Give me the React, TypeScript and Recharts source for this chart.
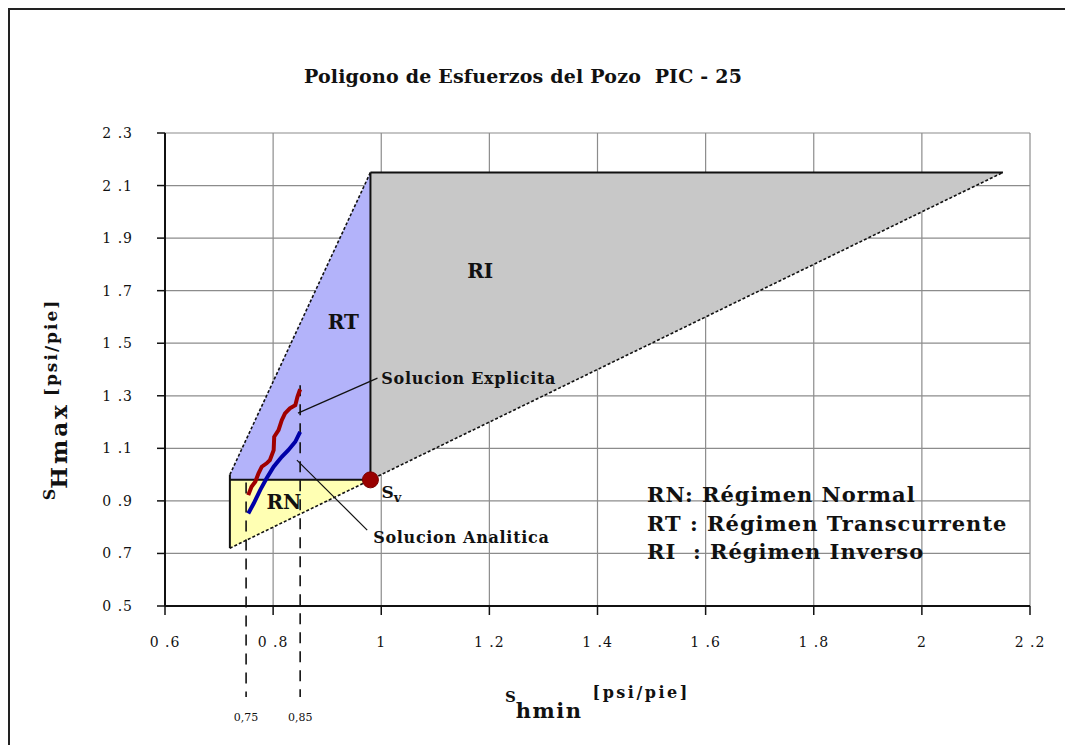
import {
  ComposedChart,
  XAxis,
  YAxis,
  CartesianGrid,
  Area,
  Line,
  ReferenceLine,
  ReferenceDot,
  Label,
} from 'recharts'

const xTicks = [0.6, 0.8, 1, 1.2, 1.4, 1.6, 1.8, 2, 2.2]
const yTicks = [0.5, 0.7, 0.9, 1.1, 1.3, 1.5, 1.7, 1.9, 2.1, 2.3]

// vertices of the stress polygon (psi/pie)
const sv = 0.98
const shLow = 0.72
const rtLow = 1.0
const top = 2.15

// regime bands: [lower SHmax, upper SHmax] at each Shmin
const rnBand = [
  { x: shLow, r: [shLow, sv] },
  { x: sv, r: [sv, sv] },
]
const rtBand = [
  { x: shLow, r: [sv, rtLow] },
  { x: sv, r: [sv, top] },
]
const riBand = [
  { x: sv, r: [sv, top] },
  { x: top, r: [top, top] },
]

const diagonalLimit = [
  { x: shLow, y: shLow },
  { x: top, y: top },
]
const rtLimit = [
  { x: shLow, y: rtLow },
  { x: sv, y: top },
]

const solidEdges = [
  [{ x: sv, y: top }, { x: top, y: top }],
  [{ x: sv, y: sv }, { x: sv, y: top }],
  [{ x: shLow, y: sv }, { x: sv, y: sv }],
  [{ x: shLow, y: shLow }, { x: shLow, y: rtLow }],
]

// Solucion Explicita (red) and Solucion Analitica (blue)
const explicita = [
  { x: 0.754, y: 0.922 },
  { x: 0.76, y: 0.954 },
  { x: 0.767, y: 0.973 },
  { x: 0.773, y: 1.005 },
  { x: 0.779, y: 1.03 },
  { x: 0.788, y: 1.043 },
  { x: 0.794, y: 1.055 },
  { x: 0.801, y: 1.093 },
  { x: 0.802, y: 1.144 },
  { x: 0.81, y: 1.169 },
  { x: 0.816, y: 1.207 },
  { x: 0.822, y: 1.233 },
  { x: 0.831, y: 1.252 },
  { x: 0.841, y: 1.264 },
  { x: 0.845, y: 1.296 },
  { x: 0.85, y: 1.325 },
]
const analitica = [
  { x: 0.754, y: 0.852 },
  { x: 0.764, y: 0.89 },
  { x: 0.776, y: 0.941 },
  { x: 0.788, y: 0.986 },
  { x: 0.801, y: 1.03 },
  { x: 0.816, y: 1.068 },
  { x: 0.828, y: 1.093 },
  { x: 0.841, y: 1.125 },
  { x: 0.85, y: 1.163 },
]

const depthMarks = [
  { x: 0.75, from: 0.97, label: '0,75' },
  { x: 0.85, from: 1.34, label: '0,85' },
]
const markBottom = 0.154
const markLabelY = 0.074

const leaders = [
  { from: { x: 0.846, y: 1.234 }, to: { x: 0.993, y: 1.367 }, text: 'Solucion Explicita', tx: 1.0, ty: 1.367 },
  { from: { x: 0.844, y: 1.055 }, to: { x: 0.974, y: 0.789 }, text: 'Solucion Analitica', tx: 0.985, ty: 0.762 },
]

const regionLabels = [
  { x: 1.183, y: 1.774, text: 'RI' },
  { x: 0.93, y: 1.58, text: 'RT' },
  { x: 0.82, y: 0.895, text: 'RN' },
]

const legendLines = ['RN: Régimen Normal', 'RT : Régimen Transcurrente', 'RI  : Régimen Inverso']

const serif = '"DejaVu Serif", "Liberation Serif", serif'

const fmt = (v: number) => (Number.isInteger(v) ? String(v) : v.toFixed(1).replace('.', ' .'))

const textLabel =
  (text: string, opts: { size?: number; anchor?: string; weight?: string; spacing?: number } = {}) =>
  (p: any) => {
    const vb = p.viewBox || {}
    const cx = vb.x + (vb.width || 0) / 2
    const cy = vb.y + (vb.height || 0) / 2
    return (
      <text
        x={cx}
        y={cy}
        textAnchor={opts.anchor || 'middle'}
        dominantBaseline="central"
        fontFamily={serif}
        fontWeight={opts.weight || 'bold'}
        fontSize={opts.size || 15}
        letterSpacing={opts.spacing || 0}
        fill="#111"
      >
        {text}
      </text>
    )
  }

const svLabel = (p: any) => {
  const vb = p.viewBox || {}
  const cx = vb.x + (vb.width || 0) / 2
  const cy = vb.y + (vb.height || 0) / 2
  return (
    <text x={cx + 11} y={cy + 18} fontFamily={serif} fontWeight="bold" fill="#111">
      <tspan fontSize={17}>S</tspan>
      <tspan fontSize={13} dy={4}>v</tspan>
    </text>
  )
}

const yTitle = (p: any) => {
  const vb = p.viewBox
  const x = vb.x - 30
  const y = vb.y + vb.height / 2 + 30
  return (
    <text
      x={x}
      y={y}
      transform={`rotate(-90, ${x}, ${y})`}
      textAnchor="middle"
      fontFamily={serif}
      fontWeight="bold"
      fill="#111"
    >
      <tspan fontSize={16}>S</tspan>
      <tspan fontSize={23} dy={12} letterSpacing={3}>Hmax</tspan>
      <tspan fontSize={17} dy={-10} dx={6} letterSpacing={2}>[psi/pie]</tspan>
    </text>
  )
}

const xTitle = (p: any) => {
  const vb = p.viewBox
  const x = vb.x + 340
  const y = vb.y + 96
  return (
    <text x={x} y={y} fontFamily={serif} fontWeight="bold" fill="#111">
      <tspan fontSize={15}>S</tspan>
      <tspan fontSize={21} dy={16} letterSpacing={1.5}>hmin</tspan>
      <tspan fontSize={16} dy={-20} dx={10} letterSpacing={2.5}>[psi/pie]</tspan>
    </text>
  )
}

export default function App() {
  return (
    <div
      style={{
        position: 'relative',
        width: 1055,
        height: 735,
        borderLeft: '2px solid #222',
        borderTop: '2px solid #222',
        background: '#fff',
      }}
    >
      <div
        style={{
          position: 'absolute',
          left: 513,
          top: 55,
          transform: 'translateX(-50%)',
          whiteSpace: 'pre',
          fontFamily: serif,
          fontWeight: 'bold',
          fontSize: 19,
          letterSpacing: 0.2,
          color: '#111',
        }}
      >
        {'Poligono de Esfuerzos del Pozo  PIC - 25'}
      </div>
      <div
        style={{
          position: 'absolute',
          left: 637,
          top: 471,
          whiteSpace: 'pre',
          fontFamily: serif,
          fontWeight: 'bold',
          fontSize: 21,
          letterSpacing: 1,
          lineHeight: '28.5px',
          color: '#111',
          zIndex: 2,
        }}
      >
        {legendLines.map((l) => (
          <div key={l}>{l}</div>
        ))}
      </div>
      <ComposedChart
        width={1055}
        height={735}
        margin={{ top: 123, right: 35, bottom: 89, left: 75 }}
      >
        <CartesianGrid stroke="#8c8c8c" strokeWidth={1.2} />
        <XAxis
          type="number"
          dataKey="x"
          domain={[0.6, 2.2]}
          ticks={xTicks}
          allowDataOverflow
          height={50}
          tickFormatter={fmt}
          tickSize={9}
          tickMargin={22}
          axisLine={{ stroke: '#111', strokeWidth: 2 }}
          tickLine={{ stroke: '#111', strokeWidth: 1.5 }}
          tick={{ fill: '#111', fontSize: 14, fontFamily: serif, letterSpacing: 1 }}
        >
          <Label content={xTitle} />
        </XAxis>
        <YAxis
          type="number"
          domain={[0.5, 2.3]}
          ticks={yTicks}
          allowDataOverflow
          width={80}
          tickFormatter={fmt}
          tickSize={8}
          tickMargin={24}
          axisLine={{ stroke: '#111', strokeWidth: 2 }}
          tickLine={{ stroke: '#111', strokeWidth: 1.5 }}
          tick={{ fill: '#111', fontSize: 14, fontFamily: serif, letterSpacing: 1 }}
        >
          <Label content={yTitle} />
        </YAxis>

        <Area data={riBand} dataKey="r" type="linear" fill="#c8c8c8" fillOpacity={1} stroke="none" dot={false} activeDot={false} isAnimationActive={false} />
        <Area data={rtBand} dataKey="r" type="linear" fill="#b3b3fa" fillOpacity={1} stroke="none" dot={false} activeDot={false} isAnimationActive={false} />
        <Area data={rnBand} dataKey="r" type="linear" fill="#ffffb3" fillOpacity={1} stroke="none" dot={false} activeDot={false} isAnimationActive={false} />

        <Line data={diagonalLimit} dataKey="y" type="linear" stroke="#111" strokeWidth={1.6} strokeDasharray="3 2" dot={false} activeDot={false} isAnimationActive={false} />
        <Line data={rtLimit} dataKey="y" type="linear" stroke="#111" strokeWidth={1.6} strokeDasharray="3 2" dot={false} activeDot={false} isAnimationActive={false} />

        {solidEdges.map((seg, i) => (
          <ReferenceLine key={'e' + i} segment={seg} stroke="#111" strokeWidth={2} />
        ))}

        {depthMarks.map((m) => (
          <ReferenceLine
            key={m.label}
            segment={[
              { x: m.x, y: m.from },
              { x: m.x, y: markBottom },
            ]}
            stroke="#111"
            strokeWidth={1.6}
            strokeDasharray="11 8"
            ifOverflow="visible"
          />
        ))}
        {depthMarks.map((m) => (
          <ReferenceDot
            key={'l' + m.label}
            x={m.x}
            y={markLabelY}
            r={1}
            fill="none"
            stroke="none"
            ifOverflow="visible"
            label={textLabel(m.label, { size: 11, weight: 'normal' })}
          />
        ))}

        {leaders.map((l) => (
          <ReferenceLine key={l.text} segment={[l.from, l.to]} stroke="#111" strokeWidth={1.2} />
        ))}

        <Line data={explicita} dataKey="y" type="linear" stroke="#a00000" strokeWidth={4} dot={false} activeDot={false} isAnimationActive={false} />
        <Line data={analitica} dataKey="y" type="linear" stroke="#0000a8" strokeWidth={4} dot={false} activeDot={false} isAnimationActive={false} />

        {leaders.map((l) => (
          <ReferenceDot
            key={'t' + l.text}
            x={l.tx}
            y={l.ty}
            r={1}
            fill="none"
            stroke="none"
            label={textLabel(l.text, { size: 16, anchor: 'start', spacing: 0.7 })}
          />
        ))}
        {regionLabels.map((r) => (
          <ReferenceDot
            key={r.text}
            x={r.x}
            y={r.y}
            r={1}
            fill="none"
            stroke="none"
            label={textLabel(r.text, { size: 20 })}
          />
        ))}
        <ReferenceDot x={sv} y={sv} r={8} fill="#990000" stroke="#7a0000" label={svLabel} />
      </ComposedChart>
    </div>
  )
}
